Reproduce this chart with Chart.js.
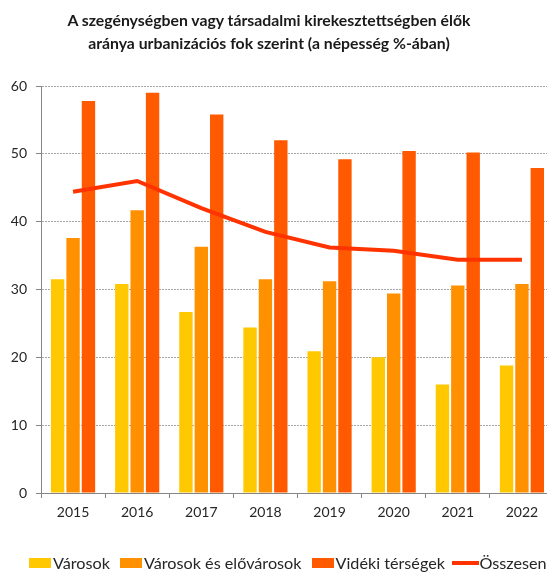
<!DOCTYPE html>
<html lang="hu">
<head>
    <meta charset="UTF-8">
    <title>Szegénységben vagy társadalmi kirekesztettségben élők</title>
    <script src="https://cdn.jsdelivr.net/npm/chart.js"></script>
    <style>
        html, body {
            margin: 0;
            padding: 0;
            overflow: hidden;
            background: #ffffff;
        }
        .wrap {
            position: relative;
            width: 547px;
            height: 572px;
            overflow: hidden;
            font-family: 'Lato', sans-serif;
        }
        #chart {
            position: absolute;
            left: 0;
            top: 0;
        }
        .title {
            position: absolute;
            left: 0;
            width: 538px;
            top: 8px;
            text-align: center;
            font-weight: bold;
            font-size: 15.8px;
            line-height: 23px;
            color: #1a1a1a;
        }
        .legend .item {
            position: absolute;
            top: 553px;
            display: flex;
            align-items: center;
            font-size: 16.2px;
            color: #262626;
            white-space: nowrap;
        }
        .legend .box {
            width: 22px;
            height: 10px;
            margin-right: 2px;
        }
        .legend .line {
            width: 27px;
            height: 4px;
            margin-right: 1px;
        }
    </style>
</head>
<body>
    <div class="wrap">
        <canvas id="chart" width="560" height="572"></canvas>
        <div class="title">A szegénységben vagy társadalmi kirekesztettségben élők<br>aránya urbanizációs fok szerint (a népesség %-ában)</div>
        <div class="legend" id="legend"></div>
    </div>

    <script>
        // Data
        const years = ['2015', '2016', '2017', '2018', '2019', '2020', '2021', '2022'];
        const varosok = [31.5, 30.8, 26.7, 24.4, 20.9, 20.0, 16.0, 18.8];
        const elovarosok = [37.6, 41.7, 36.3, 31.5, 31.2, 29.4, 30.6, 30.8];
        const videki = [57.8, 59.0, 55.8, 52.0, 49.2, 50.4, 50.2, 47.9];
        const osszesen = [44.4, 46.0, 42.0, 38.5, 36.2, 35.7, 34.4, 34.4];
        const yTicks = [0, 10, 20, 30, 40, 50, 60];

        const seriesNames = ['Városok', 'Városok és elővárosok', 'Vidéki térségek', 'Összesen'];
        const seriesColors = ['#ffc800', '#ff9100', '#ff5a00', '#ff3300'];
        // legend item left edges (px)
        const legendLeft = [29, 120, 311.5, 451.5];

        const barStyle = {
            borderWidth: 0,
            categoryPercentage: 0.72,
            barPercentage: 0.87,
            order: 1
        };

        const ctx = document.getElementById('chart').getContext('2d');
        const chart = new Chart(ctx, {
            type: 'bar',
            data: {
                labels: years,
                datasets: [
                    Object.assign({ label: seriesNames[0], data: varosok, backgroundColor: seriesColors[0] }, barStyle),
                    Object.assign({ label: seriesNames[1], data: elovarosok, backgroundColor: seriesColors[1] }, barStyle),
                    Object.assign({ label: seriesNames[2], data: videki, backgroundColor: seriesColors[2] }, barStyle),
                    {
                        type: 'line',
                        label: seriesNames[3],
                        data: osszesen,
                        borderColor: seriesColors[3],
                        borderWidth: 4,
                        pointRadius: 0,
                        tension: 0,
                        fill: false,
                        order: 0
                    }
                ]
            },
            options: {
                responsive: false,
                animation: false,
                devicePixelRatio: 1,
                layout: {
                    padding: { left: 0, right: 6, top: 86, bottom: 49 }
                },
                plugins: {
                    legend: { display: false },
                    title: { display: false },
                    tooltip: { enabled: false }
                },
                scales: {
                    x: {
                        grid: {
                            display: true,
                            drawOnChartArea: false,
                            drawTicks: true,
                            tickLength: 5,
                            tickColor: '#868686',
                            offset: true
                        },
                        border: { display: true, color: '#868686', width: 1 },
                        ticks: {
                            color: '#262626',
                            font: { family: 'Lato', size: 14 },
                            padding: 6,
                            maxRotation: 0
                        },
                        afterFit: (scale) => { scale.height = 30; }
                    },
                    y: {
                        min: 0,
                        max: 60,
                        afterBuildTicks: (scale) => {
                            scale.ticks = yTicks.map(v => ({ value: v }));
                        },
                        grid: {
                            color: '#a6a6a6',
                            lineWidth: 1,
                            drawTicks: true,
                            tickLength: 5,
                            tickColor: '#868686',
                            tickBorderDash: []
                        },
                        border: { display: true, color: '#868686', width: 1, dash: [2, 1] },
                        ticks: {
                            color: '#262626',
                            font: { family: 'Lato', size: 14 },
                            padding: 9
                        },
                        afterFit: (scale) => { scale.width = 41; }
                    }
                }
            }
        });

        // Legend
        const legendEl = document.getElementById('legend');
        seriesNames.forEach((name, i) => {
            const item = document.createElement('div');
            item.className = 'item';
            item.style.left = legendLeft[i] + 'px';
            const mark = document.createElement('span');
            mark.className = i === 3 ? 'line' : 'box';
            mark.style.background = seriesColors[i];
            const text = document.createElement('span');
            text.textContent = name;
            item.appendChild(mark);
            item.appendChild(text);
            legendEl.appendChild(item);
        });
    </script>
</body>
</html>
